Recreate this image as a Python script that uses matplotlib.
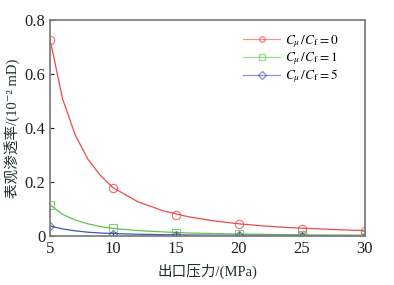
import matplotlib.pyplot as plt
import numpy as np

plt.rcParams['font.family'] = ['Liberation Serif', 'Noto Sans CJK SC', 'DejaVu Serif']
plt.rcParams['mathtext.fontset'] = 'stix'

# curve samples
p_curve = [5, 6, 7, 8, 9, 10, 12, 14, 16, 18, 20, 22, 24, 26, 28, 30]
k0_curve = [0.727, 0.507, 0.374, 0.285, 0.224, 0.179, 0.126, 0.093, 0.071,
            0.056, 0.045, 0.037, 0.031, 0.027, 0.023, 0.020]
k1_curve = [0.115, 0.080, 0.059, 0.045, 0.035, 0.028, 0.020, 0.015, 0.011,
            0.009, 0.007, 0.006, 0.005, 0.004, 0.0035, 0.003]
k5_curve = [0.037, 0.026, 0.019, 0.014, 0.011, 0.009, 0.0065, 0.0048, 0.0037,
            0.0029, 0.0024, 0.002, 0.0017, 0.0014, 0.0012, 0.001]

# marker points
p_mark = [5, 10, 15, 20, 25, 30]
k0_mark = [0.727, 0.179, 0.079, 0.043, 0.027, 0.020]
k1_mark = [0.115, 0.028, 0.012, 0.007, 0.005, 0.003]
k5_mark = [0.037, 0.009, 0.004, 0.0024, 0.0015, 0.001]

labels = [r'$C_\mu\,/C_\mathrm{f}=0$', r'$C_\mu\,/C_\mathrm{f}=1$', r'$C_\mu\,/C_\mathrm{f}=5$']
colors = ['#f04848', '#66c050', '#4455b0']
markers = ['o', 's', 'D']

fig = plt.figure(figsize=(3.94, 2.85), dpi=100)
ax = fig.add_axes([0.127, 0.172, 0.799, 0.758])

for curve, marks, c, m, lab in zip([k0_curve, k1_curve, k5_curve],
                                   [k0_mark, k1_mark, k5_mark],
                                   colors, markers, labels):
    ax.plot(p_curve, curve, color=c, linewidth=0.9)
    ax.plot(p_mark, marks, linestyle='none', marker=m, markersize=6 if m != 'D' else 4.5,
            markerfacecolor='none', markeredgecolor=c, markeredgewidth=0.8, alpha=0.8)
    ax.plot([], [], color=c, linewidth=0.9, marker=m, markersize=4,
            markerfacecolor='none', markeredgecolor=c, alpha=0.6, label=lab)

ax.set_xlim(5, 30)
ax.set_ylim(0, 0.8)
ax.set_xticks([5, 10, 15, 20, 25, 30])
ax.set_yticks([0, 0.2, 0.4, 0.6, 0.8])
ax.set_yticklabels(['0', '0.2', '0.4', '0.6', '0.8'])
ax.tick_params(direction='in', length=3, labelsize=12, colors='#222222')
for s in ax.spines.values():
    s.set_color('#808080')
    s.set_linewidth(1.3)

ax.set_xlabel('出口压力/(MPa)', fontsize=10.5, color='#203030', labelpad=5)
ax.set_ylabel('表观渗透率/(10⁻² mD)', fontsize=10.5, color='#203030', labelpad=3)

ax.legend(loc='upper right', frameon=False, fontsize=9.5, handlelength=2.8,
          labelspacing=0.05, bbox_to_anchor=(0.955, 0.995), handletextpad=0.4)

fig.savefig('out.png', dpi=100)
